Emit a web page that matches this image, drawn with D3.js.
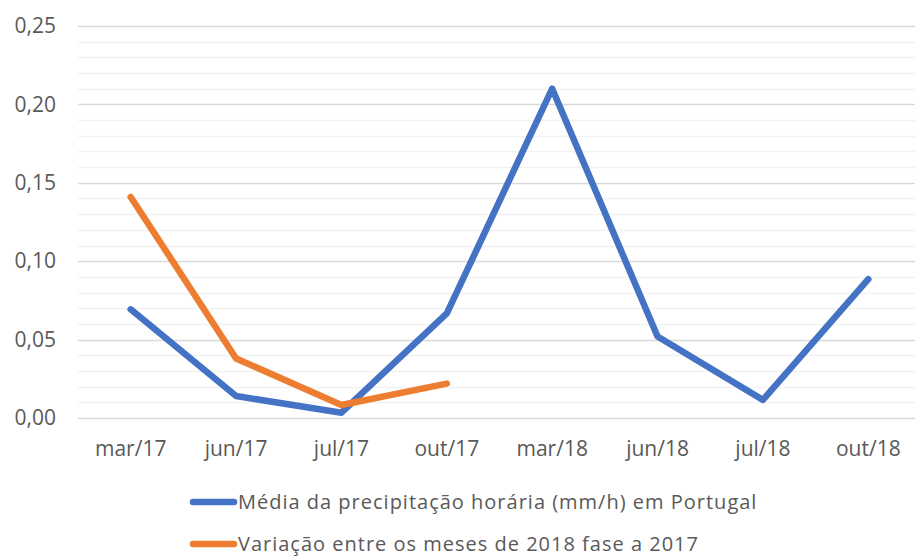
<!DOCTYPE html>
<html>
<head>
<meta charset="utf-8">
<script src="https://cdn.jsdelivr.net/npm/d3@7"></script>
<style>
  body { margin: 0; background: #fff; }
  text { font-family: "Open Sans", "Liberation Sans", sans-serif; fill: #595959; }
</style>
</head>
<body>
<div id="chart"></div>
<script>
// data
var months = ["mar/17", "jun/17", "jul/17", "out/17", "mar/18", "jun/18", "jul/18", "out/18"];
var media = [0.0693, 0.014, 0.0034, 0.0667, 0.210, 0.052, 0.0115, 0.0885];
var variacao = [0.141, 0.038, 0.0083, 0.0219];
var yTicks = [0, 0.05, 0.10, 0.15, 0.20, 0.25];
var seriesNames = ["Média da precipitação horária (mm/h) em Portugal", "Variação entre os meses de 2018 fase a 2017"];
var colors = ["#4472C4", "#ED7D31"];

var W = 915, H = 558;
var margin = {top: 26, right: -6, bottom: 140, left: 78};
var width = W - margin.left - margin.right,
    height = H - margin.top - margin.bottom;

var svg = d3.select("#chart").append("svg")
    .attr("width", W).attr("height", H);

var g = svg.append("g")
    .attr("transform", "translate(" + margin.left + "," + margin.top + ")");

var x = d3.scaleBand().domain(months).range([0, width]);
var y = d3.scaleLinear().domain([0, 0.25]).range([height, 0]);

// minor gridlines every 0.01
var minor = d3.range(0, 26).map(function (i) { return i / 100; })
  .filter(function (v, i) { return i % 5 != 0; });
g.selectAll(".minor").data(minor).enter().append("line")
  .attr("x1", 0).attr("x2", width)
  .attr("y1", function (d) { return Math.round(y(d)) + 0.5; })
  .attr("y2", function (d) { return Math.round(y(d)) + 0.5; })
  .attr("stroke", "#f2f2f2").attr("stroke-width", 1.5);

// major gridlines
g.selectAll(".major").data(yTicks).enter().append("line")
  .attr("x1", 0).attr("x2", width)
  .attr("y1", function (d) { return Math.round(y(d)) + 0.5; })
  .attr("y2", function (d) { return Math.round(y(d)) + 0.5; })
  .attr("stroke", "#d9d9d9").attr("stroke-width", 1.5);

var fmt = function (d) { return d3.format(".2f")(d).replace(".", ","); };

var yAxis = g.append("g")
  .call(d3.axisLeft(y).tickValues(yTicks).tickFormat(fmt).tickSize(0).tickPadding(22));
yAxis.select(".domain").remove();
yAxis.selectAll("text").attr("font-size", 21).style("fill", "#595959")
  .style("font-family", "'Open Sans', sans-serif");

var xAxis = g.append("g")
  .attr("transform", "translate(0," + height + ")")
  .call(d3.axisBottom(x).tickSize(0).tickPadding(23));
xAxis.select(".domain").remove();
xAxis.selectAll("text").attr("font-size", 21).style("fill", "#595959")
  .style("font-family", "'Open Sans', sans-serif");

var line = d3.line()
  .x(function (d, i) { return x(months[i]) + x.bandwidth() / 2; })
  .y(function (d) { return y(d); });

[media, variacao].forEach(function (s, k) {
  g.append("path")
    .datum(s)
    .attr("d", line)
    .attr("fill", "none")
    .attr("stroke", colors[k])
    .attr("stroke-width", 6.5)
    .attr("stroke-linejoin", "round")
    .attr("stroke-linecap", "round");
});

// legend
var legend = svg.selectAll(".legend").data(seriesNames).enter().append("g")
  .attr("transform", function (d, i) { return "translate(190," + (502 + i * 42) + ")"; });
legend.append("line")
  .attr("x1", 3).attr("x2", 44)
  .attr("stroke", function (d, i) { return colors[i]; })
  .attr("stroke-width", 6.5).attr("stroke-linecap", "round");
legend.append("text")
  .attr("x", 48).attr("dy", "0.35em")
  .attr("font-size", 20)
  .attr("letter-spacing", 1)
  .text(function (d) { return d; });
</script>
</body>
</html>
